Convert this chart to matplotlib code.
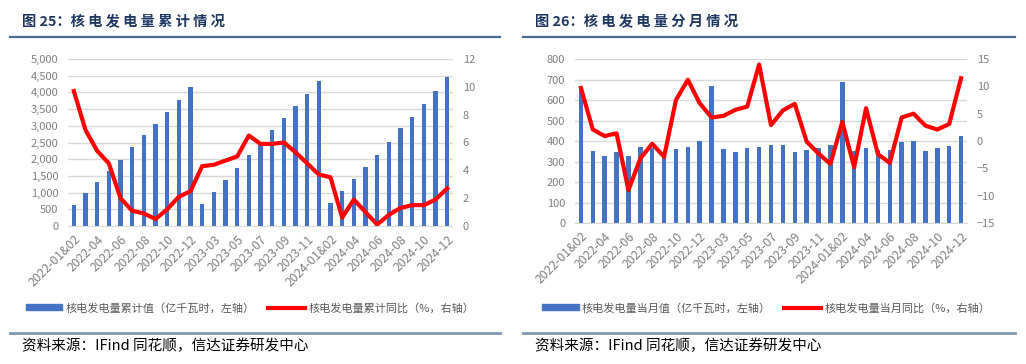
import matplotlib
matplotlib.use("Agg")
import matplotlib.pyplot as plt
from matplotlib.patches import Patch
from matplotlib.lines import Line2D

plt.rcParams['font.family'] = ['Noto Sans CJK SC', 'DejaVu Sans']

months = (["2022-01&02"] + ["2022-%02d" % m for m in range(3, 13)]
          + ["2023-01&02"] + ["2023-%02d" % m for m in range(3, 13)]
          + ["2024-01&02"] + ["2024-%02d" % m for m in range(3, 13)])

# 图25 累计值（亿千瓦时）和累计同比（%）
cum_value = [640, 990, 1320, 1660, 1990, 2360, 2720, 3050, 3400, 3780, 4170,
             670, 1030, 1380, 1740, 2130, 2500, 2880, 3220, 3590, 3950, 4330,
             690, 1050, 1420, 1770, 2130, 2520, 2920, 3270, 3640, 4030, 4450]
cum_yoy = [9.7, 6.9, 5.4, 4.5, 2.0, 1.1, 0.9, 0.5, 1.2, 2.1, 2.5,
           4.3, 4.4, 4.7, 5.0, 6.5, 5.9, 5.9, 6.0, 5.3, 4.5, 3.7,
           3.5, 0.6, 1.9, 1.0, 0.1, 0.8, 1.3, 1.5, 1.5, 1.9, 2.7]

# 图26 当月值（亿千瓦时）和当月同比（%）
mon_value = [650, 350, 325, 345, 325, 370, 365, 325, 360, 373, 398,
             668, 363, 345, 368, 370, 380, 382, 345, 357, 365, 380,
             690, 350, 365, 358, 355, 397, 400, 353, 367, 375, 422]
mon_yoy = [9.7, 2.1, 0.9, 1.4, -9.0, -3.2, -0.5, -2.9, 7.5, 11.2, 6.9,
           4.3, 4.6, 5.7, 6.3, 14.0, 2.9, 5.6, 6.8, -0.1, -2.3, -4.2,
           3.5, -4.8, 6.0, -2.4, -4.0, 4.3, 5.0, 2.8, 2.1, 3.1, 11.5]

W, H = 1026, 364
BLUE = '#4472C4'
RED = '#FF0000'
GRAY = '#7F7F7F'
GRID = '#D9D9D9'
NAVY = '#1F3864'

fig = plt.figure(figsize=(W / 100, H / 100), dpi=100)


def px_axes(x0, y0, x1, y1):
    return fig.add_axes([x0 / W, 1 - y1 / H, (x1 - x0) / W, (y1 - y0) / H])


def draw_panel(box, bars, line, ylim1, step1, ylim2, step2, fmt1, leg_labels, leg_x):
    ax = px_axes(*box)
    x = list(range(len(months)))
    ax.bar(x, bars, width=0.38, color=BLUE, zorder=2)
    ax.set_xlim(-0.5, len(months) - 0.5)
    ax.set_ylim(*ylim1)
    ticks1 = list(range(ylim1[0], ylim1[1] + 1, step1))
    ax.set_yticks(ticks1)
    ax.set_yticklabels([fmt1(t) for t in ticks1])
    ax.grid(axis='y', color=GRID, linewidth=1, zorder=0)
    ax.set_xticks(x[::2])
    ax.set_xticklabels(months[::2], rotation=45, ha='right', rotation_mode='anchor')
    for s in ['top', 'right', 'left']:
        ax.spines[s].set_visible(False)
    ax.spines['bottom'].set_color(GRID)
    ax.tick_params(length=0, colors=GRAY, labelsize=8)
    ax.tick_params(axis='y', pad=7)
    ax.tick_params(axis='x', pad=5, labelsize=8.8)

    ax2 = ax.twinx()
    ax2.plot(x, line, color=RED, linewidth=3, solid_joinstyle='round')
    ax2.set_ylim(*ylim2)
    ax2.set_yticks(list(range(ylim2[0], ylim2[1] + 1, step2)))
    for s in ax2.spines.values():
        s.set_visible(False)
    ax2.tick_params(length=0, colors=GRAY, labelsize=8, pad=7)

    handles = [Patch(color=BLUE), Line2D([], [], color=RED, linewidth=3)]
    fig.legend(handles, leg_labels, loc='center', bbox_to_anchor=(leg_x / W, 1 - 308 / H),
               ncol=2, frameon=False, fontsize=8, labelcolor='#595959',
               handlelength=3.3, handleheight=0.45, handletextpad=0.3, columnspacing=1.2)


draw_panel((68, 59, 453, 226), cum_value, cum_yoy, (0, 5000), 500, (0, 12), 2,
           lambda t: f"{t:,}",
           ["核电发电量累计值（亿千瓦时，左轴）", "核电发电量累计同比（%，右轴）"], 250)
draw_panel((575, 59, 967, 223), mon_value, mon_yoy, (0, 800), 100, (-15, 15), 5,
           lambda t: str(t),
           ["核电发电量当月值（亿千瓦时，左轴）", "核电发电量当月同比（%，右轴）"], 766)

# titles, dividers and footers
for x0, x1, title in [(10, 500, "图 25：核 电 发 电 量 累 计 情 况"),
                      (523, 1015, "图 26：核 电 发 电 量 分 月 情 况")]:
    fig.text((x0 + 12) / W, 1 - 21 / H, title, fontsize=10.3, fontweight='bold',
             color=NAVY, va='center', ha='left')
    fig.add_artist(Line2D([x0 / W, x1 / W], [1 - 37 / H, 1 - 37 / H],
                          color='#4A6A96', linewidth=1.6))
    fig.add_artist(Line2D([x0 / W, x1 / W], [1 - 333 / H, 1 - 333 / H],
                          color='#8497B0', linewidth=2))
    fig.text((x0 + 12) / W, 1 - 346 / H, "资料来源：IFind 同花顺，信达证券研发中心",
             fontsize=10.5, style='italic', color='black', va='center', ha='left')

fig.savefig("out.png", dpi=100)
